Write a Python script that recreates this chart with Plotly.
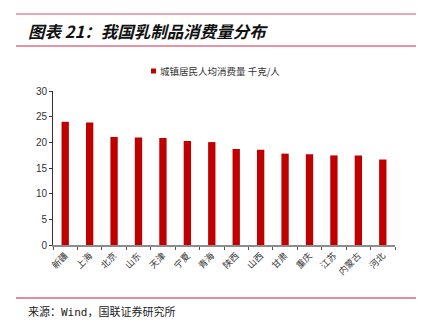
import plotly.graph_objects as go

categories = ["新疆", "上海", "北京", "山东", "天津", "宁夏", "青海", "陕西", "山西", "甘肃", "重庆", "江苏", "内蒙古", "河北"]
values = [24.0, 23.85, 21.05, 20.95, 20.85, 20.25, 20.05, 18.7, 18.55, 17.8, 17.7, 17.45, 17.45, 16.65]
series_name = "城镇居民人均消费量 千克/人"
title_text = "图表 21：我国乳制品消费量分布"
source_text = "来源：Wind，国联证券研究所"

W, H = 421, 324
L, R, T, B = 53, 395, 91, 245
pw, ph = R - L, B - T

def px(x):
    return (x - L) / pw

def py(y):
    return (B - y) / ph

font_cjk = "Noto Sans CJK SC"
bar_color = "#C00000"

fig = go.Figure()
fig.add_trace(go.Bar(
    x=categories, y=values, name=series_name,
    marker=dict(color=bar_color, line=dict(width=0)),
    showlegend=False,
))

fig.update_layout(
    width=W, height=H,
    margin=dict(l=L, r=W - R, t=T, b=H - B),
    paper_bgcolor="white", plot_bgcolor="white",
    bargap=0.7,
    showlegend=False,
    xaxis=dict(
        type="category", showgrid=False, showline=True, linecolor="#8c8c8c", linewidth=2,
        ticks="outside", tickson="boundaries", ticklen=3, tickcolor="#555555",
        tickangle=-45, tickfont=dict(family=font_cjk, size=9, color="#333333"),
    ),
    yaxis=dict(
        range=[0, 30], dtick=5, showgrid=False, zeroline=False,
        showline=True, linecolor="#333333", linewidth=1,
        ticks="outside", ticklen=3, tickcolor="#333333",
        tickfont=dict(family="Liberation Sans, Arial", size=10, color="#333333"),
    ),
    shapes=[
        dict(type="line", xref="paper", yref="paper", x0=px(16), x1=px(416), y0=py(14), y1=py(14),
             line=dict(color="#E8899E", width=1.5)),
        dict(type="line", xref="paper", yref="paper", x0=px(16), x1=px(416), y0=py(46), y1=py(46),
             line=dict(color="#E0708A", width=1.5)),
        dict(type="line", xref="paper", yref="paper", x0=px(16), x1=px(416), y0=py(298), y1=py(298),
             line=dict(color="#C8193C", width=1.2)),
        # legend swatch
        dict(type="rect", xref="paper", yref="paper", x0=px(151), x1=px(156), y0=py(68.5), y1=py(73.5),
             fillcolor=bar_color, line=dict(width=0)),
    ],
    annotations=[
        dict(text="<b><i>" + title_text + "</i></b>", xref="paper", yref="paper", x=px(26), y=py(31),
             xanchor="left", yanchor="middle", showarrow=False,
             font=dict(family=font_cjk, size=16.5, color="#111111")),
        dict(text=series_name, xref="paper", yref="paper", x=px(158), y=py(71),
             xanchor="left", yanchor="middle", showarrow=False,
             font=dict(family=font_cjk, size=9.5, color="#333333")),
        dict(text=source_text, xref="paper", yref="paper", x=px(26), y=py(312),
             xanchor="left", yanchor="middle", showarrow=False,
             font=dict(family="DejaVu Sans Mono, " + font_cjk, size=11, color="#222222")),
    ],
)

fig.write_html("out.html")
